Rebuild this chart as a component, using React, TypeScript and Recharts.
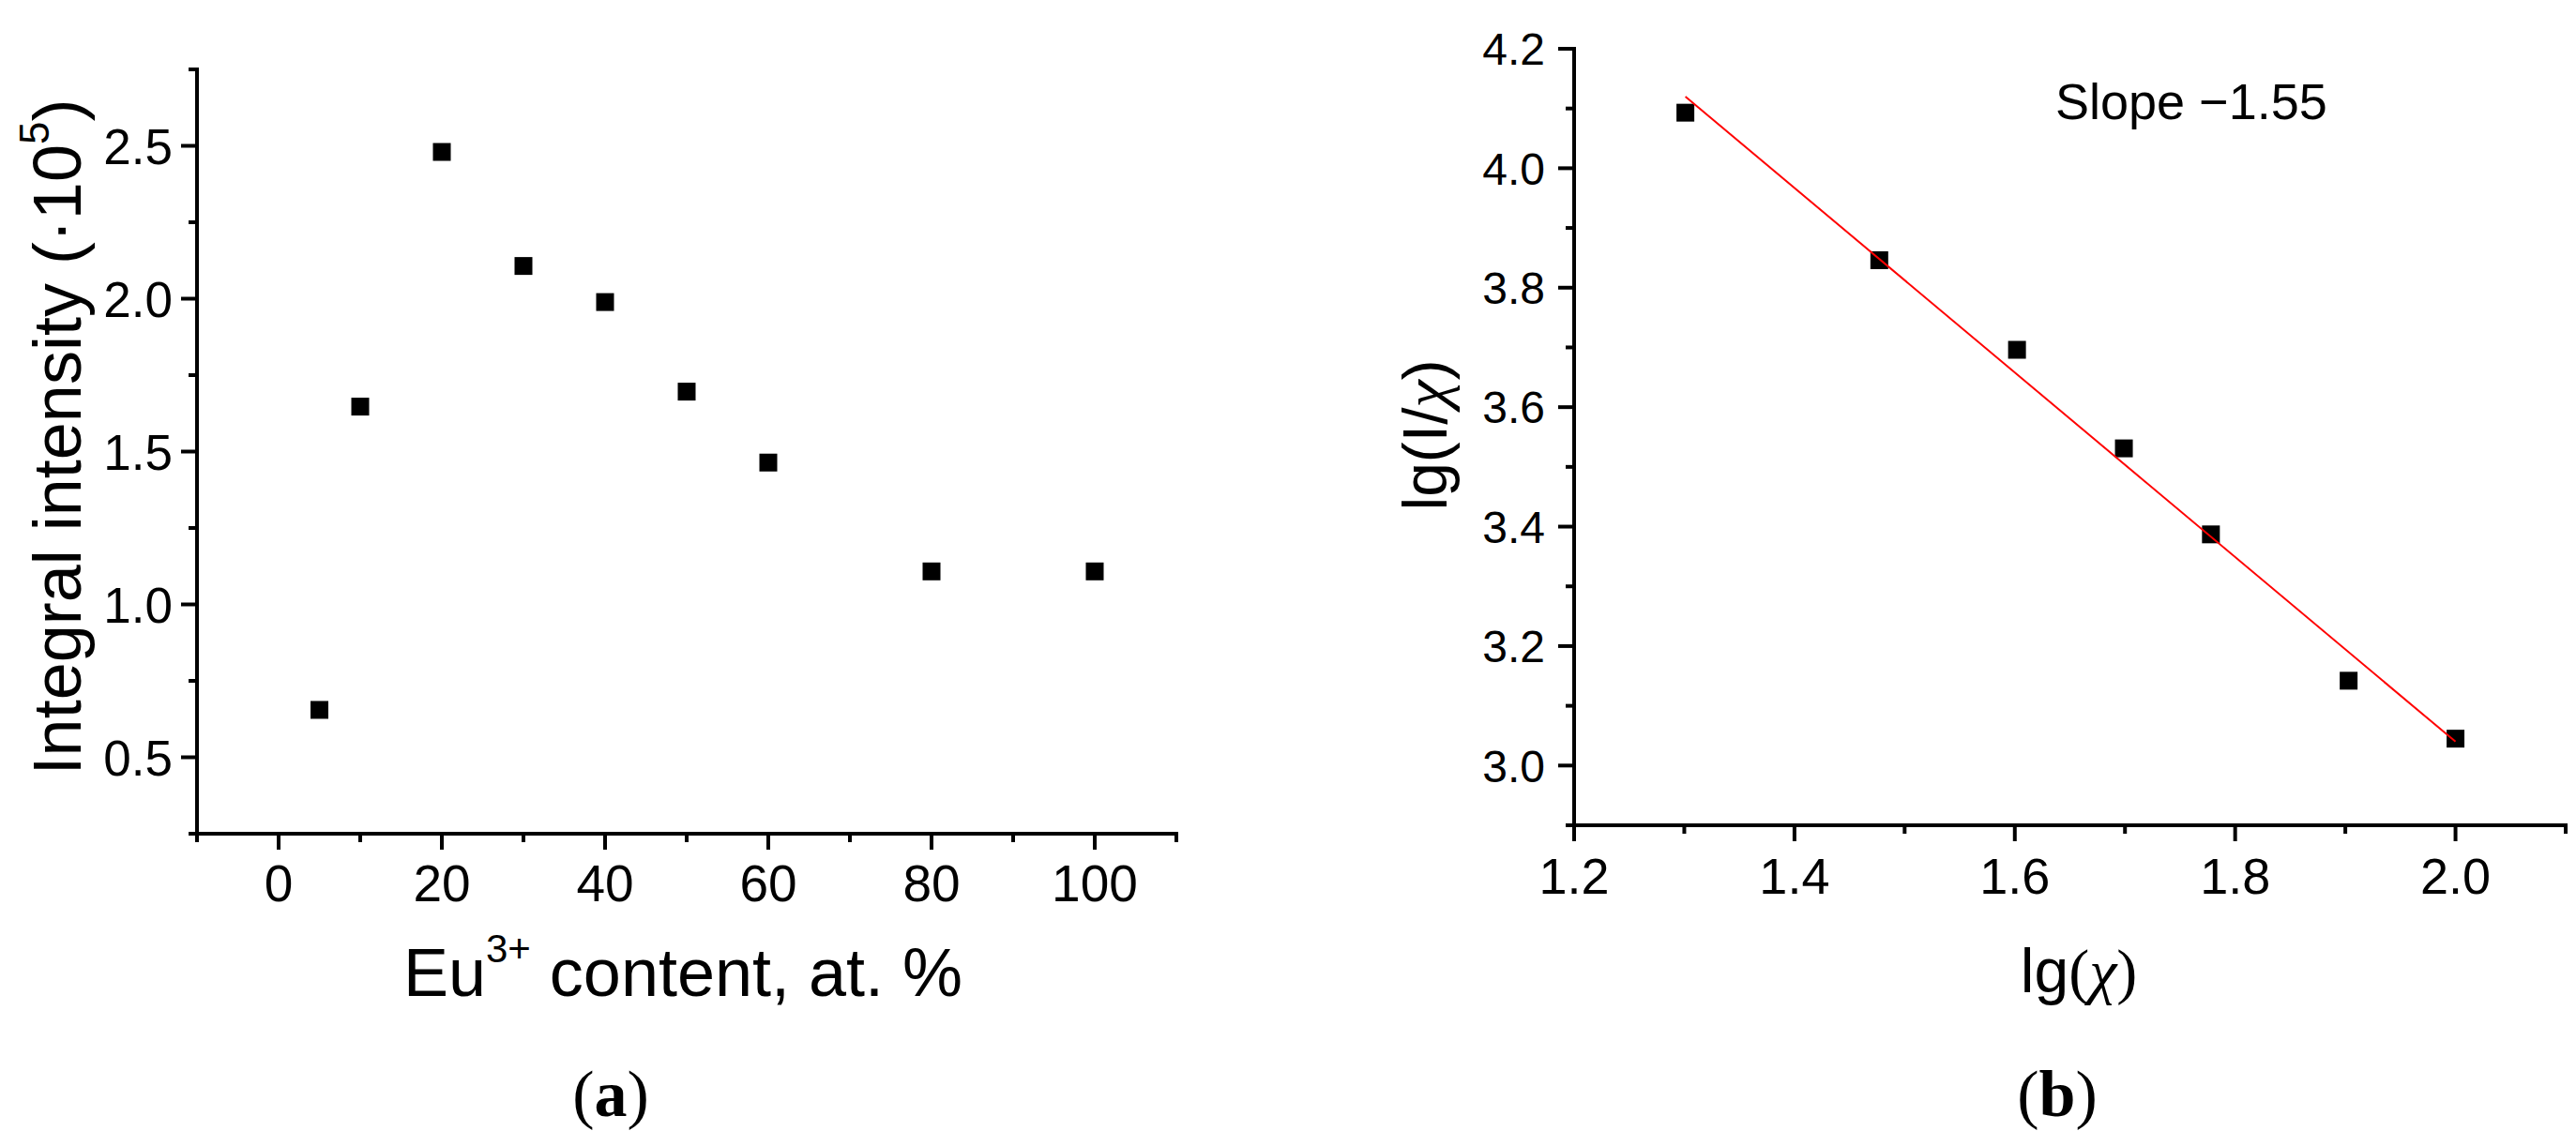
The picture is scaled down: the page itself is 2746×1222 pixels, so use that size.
import React from 'react';
import { ScatterChart, Scatter, XAxis, YAxis } from 'recharts';

// panel (a): Eu3+ content vs integral intensity (x10^5)
const euContent = [5, 10, 20, 30, 40, 50, 60, 80, 100];
const integralIntensity = [0.655, 1.647, 2.48, 2.107, 1.989, 1.696, 1.464, 1.108, 1.108];

// panel (b): lg(chi) vs lg(I/chi), plus the linear fit
const lgChi = [1.301, 1.477, 1.602, 1.699, 1.778, 1.903, 2.0];
const lgIChi = [4.093, 3.846, 3.696, 3.531, 3.387, 3.142, 3.045];
const fitX = [1.301, 2.0];
const fitY = [4.12, 3.04];

// ticks (all) and labelled ticks
const aXTicks = [-10, 0, 10, 20, 30, 40, 50, 60, 70, 80, 90, 100, 110];
const aXLabels = [0, 20, 40, 60, 80, 100];
const aYTicks = [0.25, 0.5, 0.75, 1.0, 1.25, 1.5, 1.75, 2.0, 2.25, 2.5, 2.75];
const aYLabels = [0.5, 1.0, 1.5, 2.0, 2.5];
const bXTicks = [1.2, 1.3, 1.4, 1.5, 1.6, 1.7, 1.8, 1.9, 2.0, 2.1];
const bXLabels = [1.2, 1.4, 1.6, 1.8, 2.0];
const bYTicks = [2.9, 3.0, 3.1, 3.2, 3.3, 3.4, 3.5, 3.6, 3.7, 3.8, 3.9, 4.0, 4.1, 4.2];
const bYLabels = [3.0, 3.2, 3.4, 3.6, 3.8, 4.0, 4.2];

const dataA = euContent.map((x, i) => ({ x, y: integralIntensity[i] }));
const dataB = lgChi.map((x, i) => ({ x, y: lgIChi[i] }));
const dataFit = fitX.map((x, i) => ({ x, y: fitY[i] }));

const FONT = '"Liberation Sans", Arial, sans-serif';
const SERIF = '"Liberation Serif", "Times New Roman", serif';

const isIn = (list: number[], v: number) => list.some((l) => Math.abs(l - v) < 1e-6);

const xTick = (labels: number[], fontSize: number, dy: number, fmt: (v: number) => string) => (props: any) => {
  const { x, y, payload } = props;
  const major = isIn(labels, payload.value);
  return (
    <g>
      <line x1={x} y1={y} x2={x} y2={y + (major ? 17 : 9)} stroke="#000" strokeWidth={4} />
      {major && (
        <text x={x} y={y + dy} textAnchor="middle" fontSize={fontSize} fontFamily={FONT} fill="#000">
          {fmt(payload.value)}
        </text>
      )}
    </g>
  );
};

const yTick = (labels: number[], fontSize: number, gap: number, fmt: (v: number) => string) => (props: any) => {
  const { x, y, payload } = props;
  const major = isIn(labels, payload.value);
  return (
    <g>
      <line x1={x} y1={y} x2={x - (major ? 17 : 9)} y2={y} stroke="#000" strokeWidth={4} />
      {major && (
        <text x={x - gap} y={y + fontSize * 0.36} textAnchor="end" fontSize={fontSize} fontFamily={FONT} fill="#000">
          {fmt(payload.value)}
        </text>
      )}
    </g>
  );
};

const square = (props: any) => (
  <rect x={props.cx - 9.5} y={props.cy - 9.5} width={19} height={19} fill="#000" />
);

const axisLine = { stroke: '#000', strokeWidth: 4, strokeLinecap: 'square' as const };

const App: React.FC = () => {
  return (
    <div style={{ position: 'absolute', left: 0, top: 0, width: 2746, height: 1222, background: '#fff' }}>
      <div style={{ position: 'absolute', left: 0, top: 0 }}>
        <ScatterChart width={1320} height={1222} margin={{ top: 74, left: 209, right: 66, bottom: 332 }}>
          <XAxis
            type="number"
            dataKey="x"
            domain={[-10, 110]}
            ticks={aXTicks}
            interval={0}
            height={1}
            tickSize={0}
            tickMargin={0}
            tickLine={false}
            axisLine={axisLine}
            tick={xTick(aXLabels, 55, 72, (v) => String(v))}
          />
          <YAxis
            type="number"
            dataKey="y"
            domain={[0.25, 2.75]}
            ticks={aYTicks}
            interval={0}
            width={1}
            tickSize={0}
            tickMargin={0}
            tickLine={false}
            axisLine={axisLine}
            tick={yTick(aYLabels, 53, 26, (v) => v.toFixed(1))}
          />
          <Scatter data={dataA} shape={square} isAnimationActive={false} />
        </ScatterChart>
      </div>
      <div style={{ position: 'absolute', left: 1320, top: 0 }}>
        <ScatterChart width={1426} height={1222} margin={{ top: 52, left: 357, right: 11, bottom: 341 }}>
          <XAxis
            type="number"
            dataKey="x"
            domain={[1.2, 2.1]}
            ticks={bXTicks}
            interval={0}
            height={1}
            tickSize={0}
            tickMargin={0}
            tickLine={false}
            axisLine={axisLine}
            tick={xTick(bXLabels, 54, 73, (v) => v.toFixed(1))}
          />
          <YAxis
            type="number"
            dataKey="y"
            domain={[2.9, 4.2]}
            ticks={bYTicks}
            interval={0}
            width={1}
            tickSize={0}
            tickMargin={0}
            tickLine={false}
            axisLine={axisLine}
            tick={yTick(bYLabels, 48, 31, (v) => v.toFixed(1))}
          />
          <Scatter data={dataB} shape={square} isAnimationActive={false} />
          <Scatter
            data={dataFit}
            line={{ stroke: '#ff0000', strokeWidth: 2 }}
            shape={() => <g />}
            isAnimationActive={false}
          />
        </ScatterChart>
      </div>
      <svg
        width={2746}
        height={1222}
        style={{ position: 'absolute', left: 0, top: 0, pointerEvents: 'none' }}
        fontFamily={FONT}
        fill="#000"
      >
        <text x={86} y={466} transform="rotate(-90 86 466)" textAnchor="middle" fontSize={72}>
          Integral intensity (·10
          <tspan dy={-34} fontSize={44}>5</tspan>
          <tspan dy={34}>)</tspan>
        </text>
        <text x={728} y={1062} textAnchor="middle" fontSize={72}>
          Eu
          <tspan dy={-36} fontSize={42}>3+</tspan>
          <tspan dy={36}> content, at. %</tspan>
        </text>
        <text x={1542} y={464} transform="rotate(-90 1542 464)" textAnchor="middle" fontSize={66}>
          lg(I/<tspan fontFamily={SERIF} fontStyle="italic">χ</tspan>)
        </text>
        <text x={2216} y={1058} textAnchor="middle" fontSize={66}>
          lg<tspan fontFamily={SERIF}>(</tspan>
          <tspan fontFamily={SERIF} fontStyle="italic">χ</tspan>
          <tspan fontFamily={SERIF}>)</tspan>
        </text>
        <text x={2191} y={127} fontSize={54}>Slope −1.55</text>
        <text x={651} y={1190} textAnchor="middle" fontSize={70} fontFamily={SERIF}>
          (<tspan fontWeight="bold">a</tspan>)
        </text>
        <text x={2193} y={1190} textAnchor="middle" fontSize={70} fontFamily={SERIF}>
          (<tspan fontWeight="bold">b</tspan>)
        </text>
      </svg>
    </div>
  );
};

export default App;
